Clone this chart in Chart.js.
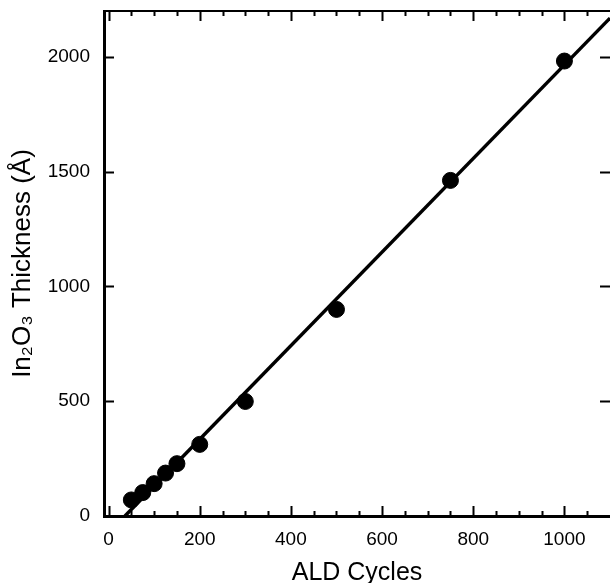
<!DOCTYPE html>
<html>
<head>
<meta charset="utf-8">
<script src="https://cdn.jsdelivr.net/npm/chart.js@4/dist/chart.umd.min.js"></script>
<style>
  html, body { margin: 0; padding: 0; background: #fff; }
  #wrap { width: 610px; height: 583px; }
</style>
</head>
<body>
<div id="wrap"><canvas id="myChart"></canvas></div>
<script>
// measured points
const cycles = [50, 75, 100, 125, 150, 200, 300, 500, 750, 1000];
const thickness = [70, 102, 141, 187, 228, 312, 499, 900, 1462, 1982];

// linear fit line end points
const fitX = [36, 1100];
const fitY = [0, 2169];

// tick values
const xMajorTicks = [0, 200, 400, 600, 800, 1000];
const xMinorTicks = [50, 100, 150, 250, 300, 350, 450, 500, 550, 650, 700, 750, 850, 900, 950, 1050];
const yMajorTicks = [0, 500, 1000, 1500, 2000];

const font = 'Liberation Sans, Arial, sans-serif';

// inward tick marks + top frame line
const frameTicks = {
  id: 'frameTicks',
  afterDatasetsDraw(chart) {
    const { ctx, chartArea: a, scales: { x, y } } = chart;
    ctx.save();
    ctx.strokeStyle = '#000';
    ctx.lineCap = 'butt';

    ctx.lineWidth = 2;
    ctx.beginPath();
    ctx.moveTo(a.left, a.top);
    ctx.lineTo(a.right, a.top);
    ctx.stroke();

    const xTick = (v, len) => {
      const px = Math.round(x.getPixelForValue(v)) + 0.5;
      ctx.moveTo(px, a.bottom);
      ctx.lineTo(px, a.bottom - len);
      ctx.moveTo(px, a.top);
      ctx.lineTo(px, a.top + len);
    };
    ctx.beginPath();
    xMajorTicks.forEach(v => xTick(v, 10));
    xMinorTicks.forEach(v => xTick(v, 5));
    yMajorTicks.forEach(v => {
      if (v === 0) return;
      const py = Math.round(y.getPixelForValue(v)) + 0.5;
      ctx.moveTo(a.left, py);
      ctx.lineTo(a.left + 10, py);
      ctx.moveTo(a.right, py);
      ctx.lineTo(a.right - 10, py);
    });
    ctx.stroke();
    ctx.restore();
  }
};

const ctx = document.getElementById('myChart').getContext('2d');
const myChart = new Chart(ctx, {
  type: 'scatter',
  data: {
    datasets: [
      {
        label: 'Thickness',
        data: cycles.map((c, i) => ({ x: c, y: thickness[i] })),
        backgroundColor: '#000',
        borderColor: '#000',
        pointRadius: 8,
        pointHoverRadius: 8
      },
      {
        label: 'Fit',
        type: 'line',
        data: fitX.map((c, i) => ({ x: c, y: fitY[i] })),
        borderColor: '#000',
        borderWidth: 3.5,
        pointRadius: 0,
        fill: false
      }
    ]
  },
  options: {
    responsive: true,
    maintainAspectRatio: false,
    animation: false,
    layout: { autoPadding: false, padding: { top: 11, right: 0, left: 0, bottom: 0 } },
    plugins: {
      legend: { display: false },
      tooltip: { enabled: false }
    },
    scales: {
      x: {
        type: 'linear',
        min: -10,
        max: 1100,
        afterFit: s => {
          s.height = 67;
          s.paddingLeft = 0;
          s.paddingRight = 0;
        },
        afterBuildTicks: s => { s.ticks = xMajorTicks.map(v => ({ value: v })); },
        grid: { display: false, drawTicks: false },
        border: { display: true, color: '#000', width: 3 },
        ticks: {
          color: '#000',
          padding: 12,
          font: { family: font, size: 19 },
          callback: v => String(v)
        },
        title: {
          display: true,
          text: 'ALD Cycles',
          color: '#000',
          padding: { top: 0, bottom: -3 },
          font: { family: font, size: 25, lineHeight: 1 }
        }
      },
      y: {
        type: 'linear',
        min: 0,
        max: 2200,
        afterFit: s => {
          s.width = 104;
          s.paddingTop = 0;
          s.paddingBottom = 0;
        },
        afterBuildTicks: s => { s.ticks = yMajorTicks.map(v => ({ value: v })); },
        grid: { display: false, drawTicks: false },
        border: { display: true, color: '#000', width: 3 },
        ticks: {
          color: '#000',
          padding: 14,
          font: { family: font, size: 19 },
          callback: v => String(v)
        },
        title: {
          display: true,
          text: 'In₂O₃ Thickness (Å)',
          color: '#000',
          padding: { top: 10, bottom: 0 },
          font: { family: font, size: 26, lineHeight: 1 }
        }
      }
    }
  },
  plugins: [frameTicks]
});
</script>
</body>
</html>
